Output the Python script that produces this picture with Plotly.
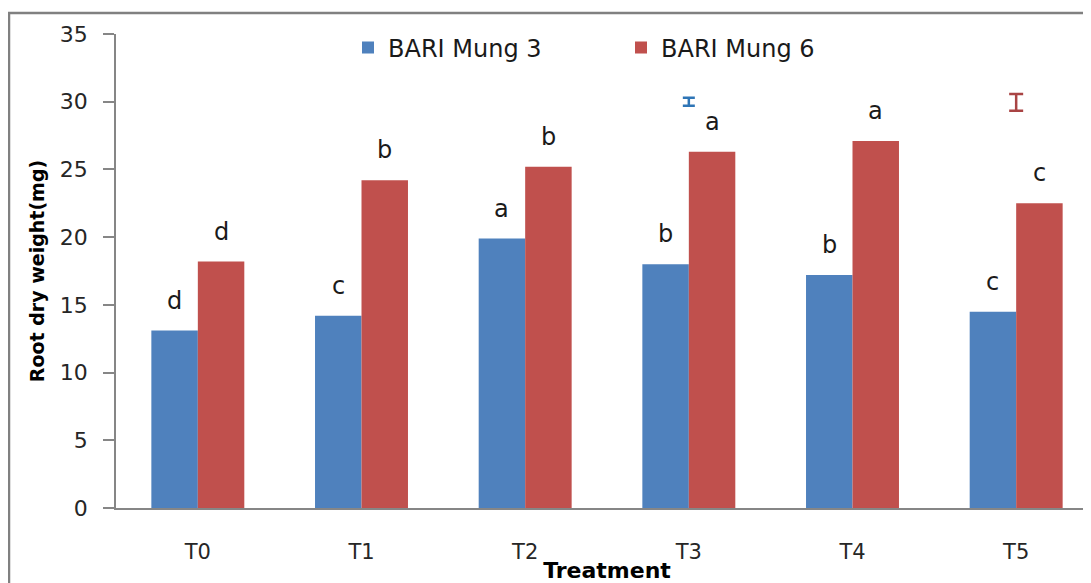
import plotly.graph_objects as go

treatments = ["T0", "T1", "T2", "T3", "T4", "T5"]
mung3 = [13.1, 14.2, 19.9, 18.0, 17.2, 14.5]
mung6 = [18.2, 24.2, 25.2, 26.3, 27.1, 22.5]
letters3 = ["d", "c", "a", "b", "b", "c"]
letters6 = ["d", "b", "b", "a", "a", "c"]
lsd_x = ["T3", "T5"]
lsd_y = [30.0, 29.95]
lsd_err = [0.3, 0.62]

BLUE = "#4F81BD"
RED = "#C0504D"
FONT = "DejaVu Sans"

fig = go.Figure()
fig.add_trace(go.Bar(x=treatments, y=mung3, name="BARI Mung 3", marker_color=BLUE,
                     marker_line_width=0))
fig.add_trace(go.Bar(x=treatments, y=mung6, name="BARI Mung 6", marker_color=RED,
                     marker_line_width=0))

# LSD bars
fig.add_trace(go.Scatter(x=[lsd_x[0]], y=[lsd_y[0]], mode="markers", marker=dict(size=0.1, color="#2E75B6"),
                         error_y=dict(type="data", array=[lsd_err[0]], color="#2E75B6", thickness=2.5, width=6),
                         showlegend=False, hoverinfo="skip"))
fig.add_trace(go.Scatter(x=[lsd_x[1]], y=[lsd_y[1]], mode="markers", marker=dict(size=0.1, color="#A94444"),
                         error_y=dict(type="data", array=[lsd_err[1]], color="#A94444", thickness=2.5, width=7),
                         showlegend=False, hoverinfo="skip"))

SHIFT = 23.3
for t, v, l in zip(treatments, mung3, letters3):
    fig.add_annotation(x=t, y=v, text=l, showarrow=False, xshift=-SHIFT, yshift=14,
                       yanchor="bottom", font=dict(family=FONT, size=24, color="#1a1a1a"))
for t, v, l in zip(treatments, mung6, letters6):
    fig.add_annotation(x=t, y=v, text=l, showarrow=False, xshift=SHIFT, yshift=14,
                       yanchor="bottom", font=dict(family=FONT, size=24, color="#1a1a1a"))

L, T, W, H = 108, 26, 982, 474

# outer frame
fig.add_shape(type="rect", xref="paper", yref="paper",
              x0=(1 - L) / W, x1=1.2, y0=-0.4, y1=(T + H - 5) / H,
              line=dict(color="#808080", width=2.5), fillcolor="rgba(0,0,0,0)", layer="below")

fig.update_layout(
    width=1091, height=583,
    margin=dict(l=L, r=1091 - L - W, t=T, b=583 - T - H),
    paper_bgcolor="white", plot_bgcolor="white",
    barmode="group", bargap=0.432, bargroupgap=0,
    font=dict(family=FONT, color="#262626"),
    showlegend=True,
    legend=dict(orientation="h", x=(340 - L) / W, xanchor="left", y=(T + H - 40) / H, yanchor="middle",
                font=dict(family=FONT, size=24, color="#1a1a1a"),
                entrywidth=228, entrywidthmode="pixels", bgcolor="rgba(0,0,0,0)"),
    xaxis=dict(range=[-0.5, 5.5], showline=True, linecolor="#868686", linewidth=1.5,
               ticks="", tickfont=dict(family=FONT, size=21, color="#262626"),
               ticklabelstandoff=24,
               title=dict(text="<b>Treatment</b>", font=dict(family=FONT, size=22, color="#000"), standoff=0),
               showgrid=False, zeroline=False, fixedrange=True),
    yaxis=dict(range=[0, 35], dtick=5, showline=True, linecolor="#868686", linewidth=1.5,
               ticks="outside", ticklen=11, tickcolor="#868686", tickwidth=1.5,
               tickfont=dict(family=FONT, size=22, color="#262626"), ticklabelstandoff=11,
               title=dict(text="<b>Root dry weight(mg)</b>", font=dict(family=FONT, size=19, color="#000"), standoff=10),
               showgrid=False, zeroline=False, fixedrange=True),
)

fig.write_html("out.html")
